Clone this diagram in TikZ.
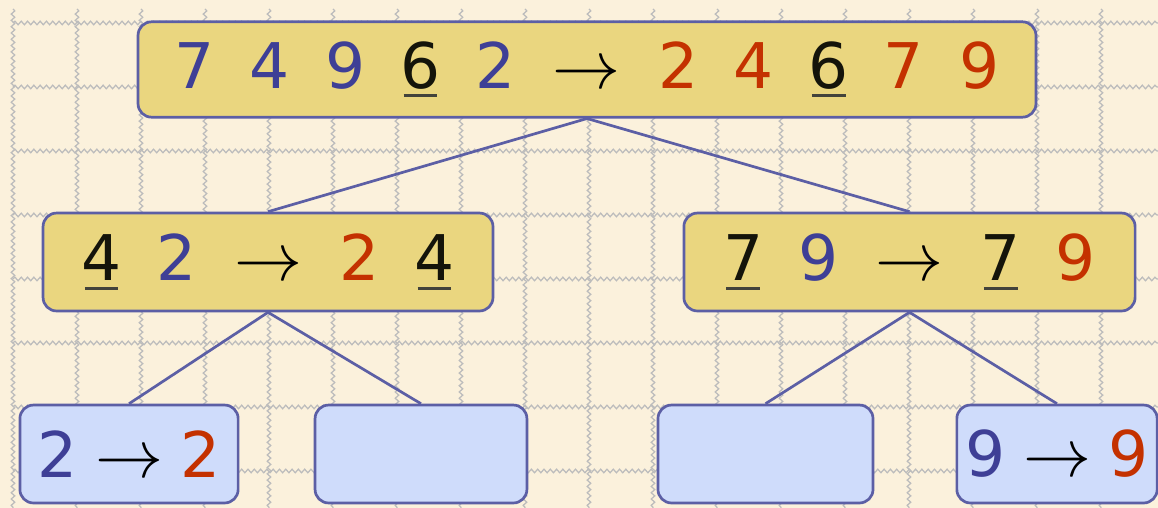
\RequirePackage{fix-cm}
\documentclass[tikz,border=0pt]{standalone}
\usepackage{fontspec}
\setmainfont{DejaVu Sans}
\usepackage{xcolor}
\usepackage{tikz}
\usetikzlibrary{decorations.pathmorphing}
\definecolor{figbg}{RGB}{251,241,220}
\definecolor{figgrid}{RGB}{188,188,188}
\definecolor{figline}{RGB}{92,95,165}
\definecolor{figgold}{RGB}{234,214,127}
\definecolor{figsky}{RGB}{207,220,251}
\definecolor{numin}{RGB}{62,63,150}
\definecolor{numout}{RGB}{196,49,0}
\definecolor{numpiv}{RGB}{20,20,10}
\newcommand{\din}[1]{\textcolor{numin}{#1}}
\newcommand{\dout}[1]{\textcolor{numout}{#1}}
\newcommand{\dpiv}[1]{\setbox0\hbox{#1}\rlap{\hspace{0.05cm}\textcolor{numpiv!80}{\rule[-0.14cm]{\dimexpr\wd0-0.1cm\relax}{0.045cm}}}\textcolor{numpiv}{\box0}}
\newcommand{\dsep}{\hspace{0.55cm}}
\newcommand{\dto}{\hspace{0.58cm}\scalebox{1.08}{$\rightarrow$}\hspace{0.58cm}}
\newcommand{\dtoo}{\hspace{0.28cm}\scalebox{1.08}{$\rightarrow$}\hspace{0.28cm}}
\tikzset{
  grd/.style ={draw=figgrid, line width=0.55pt, decorate, decoration={snake, amplitude=0.8pt, segment length=2.8pt}},
  box/.style ={draw=figline, line width=1.2pt, rounded corners=6pt, inner sep=0pt, font=\fontsize{28}{34}\selectfont},
  gbox/.style={box, fill=figgold, minimum height=1.49cm},
  bbox/.style={box, fill=figsky, minimum height=1.53cm},
  con/.style ={draw=figline, line width=1.2pt},
}
\begin{document}
\begin{tikzpicture}
  \useasboundingbox (0,0) rectangle (18.094,-7.9375);
  \fill[figbg] (0,0) rectangle (18.094,-7.9375);
  \draw[grd] (0.203,-0.14) -- (0.203,-7.94);
  \draw[grd] (1.203,-0.14) -- (1.203,-7.94);
  \draw[grd] (2.203,-0.14) -- (2.203,-7.94);
  \draw[grd] (3.203,-0.14) -- (3.203,-7.94);
  \draw[grd] (4.203,-0.14) -- (4.203,-7.94);
  \draw[grd] (5.203,-0.14) -- (5.203,-7.94);
  \draw[grd] (6.203,-0.14) -- (6.203,-7.94);
  \draw[grd] (7.203,-0.14) -- (7.203,-7.94);
  \draw[grd] (8.203,-0.14) -- (8.203,-7.94);
  \draw[grd] (9.203,-0.14) -- (9.203,-7.94);
  \draw[grd] (10.203,-0.14) -- (10.203,-7.94);
  \draw[grd] (11.203,-0.14) -- (11.203,-7.94);
  \draw[grd] (12.203,-0.14) -- (12.203,-7.94);
  \draw[grd] (13.203,-0.14) -- (13.203,-7.94);
  \draw[grd] (14.203,-0.14) -- (14.203,-7.94);
  \draw[grd] (15.203,-0.14) -- (15.203,-7.94);
  \draw[grd] (16.203,-0.14) -- (16.203,-7.94);
  \draw[grd] (17.203,-0.14) -- (17.203,-7.94);
  \draw[grd] (0.203,-0.359) -- (18.094,-0.359);
  \draw[grd] (0.203,-1.359) -- (18.094,-1.359);
  \draw[grd] (0.203,-2.359) -- (18.094,-2.359);
  \draw[grd] (0.203,-3.359) -- (18.094,-3.359);
  \draw[grd] (0.203,-4.359) -- (18.094,-4.359);
  \draw[grd] (0.203,-5.359) -- (18.094,-5.359);
  \draw[grd] (0.203,-6.359) -- (18.094,-6.359);
  \draw[grd] (0.203,-7.359) -- (18.094,-7.359);
  \node[gbox,minimum width=14.03cm] (top) at (9.172,-1.086)
    {\din{7}\dsep\din{4}\dsep\din{9}\dsep\dpiv{6}\dsep\din{2}\dto\dout{2}\dsep\dout{4}\dsep\dpiv{6}\dsep\dout{7}\dsep\dout{9}};
  \node[gbox,minimum width=7.03cm,minimum height=1.53cm] (ml) at (4.188,-4.094)
    {\dpiv{4}\dsep\din{2}\dto\dout{2}\dsep\dpiv{4}};
  \node[gbox,minimum width=7.05cm,minimum height=1.53cm] (mr) at (14.211,-4.094)
    {\dpiv{7}\dsep\din{9}\dto\dpiv{7}\dsep\dout{9}};
  \node[bbox,minimum width=3.41cm] (b1) at (2.016,-7.094) {\din{2}\dtoo\dout{2}};
  \node[bbox,minimum width=3.31cm] (b2) at (6.578,-7.094) {};
  \node[bbox,minimum width=3.36cm] (b3) at (11.961,-7.094) {};
  \node[bbox,minimum width=3.13cm] (b4) at (16.516,-7.094) {\din{9}\dtoo\dout{9}};
  \draw[con] (top.south) -- (ml.north);
  \draw[con] (top.south) -- (mr.north);
  \draw[con] (ml.south) -- (b1.north);
  \draw[con] (ml.south) -- (b2.north);
  \draw[con] (mr.south) -- (b3.north);
  \draw[con] (mr.south) -- (b4.north);
\end{tikzpicture}
\end{document}
